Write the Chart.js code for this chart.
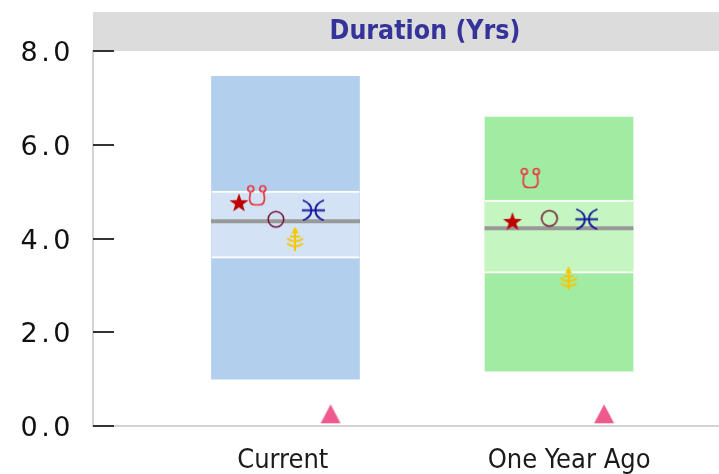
<!DOCTYPE html>
<html>
<head>
<meta charset="utf-8">
<style>
  html, body { margin: 0; padding: 0; background: #fff; }
  canvas { display: block; }
</style>
<script src="https://cdn.jsdelivr.net/npm/chart.js@4"></script>
</head>
<body>
<canvas id="durationChart" width="719" height="474"></canvas>
<script>
const categories = ['Current', 'One Year Ago'];
const yTicks = [0, 2, 4, 6, 8];

// box: outer range, inner range, median
const outerLow = [1.0, 1.17];
const outerHigh = [7.46, 6.59];
const innerLow = [3.58, 3.26];
const innerHigh = [5.01, 4.82];
const medians = [4.37, 4.22];

// one value per category for each marker
const starValues = [4.75, 4.35];
const stethoscopeValues = [4.92, 5.29];
const circleValues = [4.41, 4.43];
const anchorValues = [4.0, 3.15];
const piscesValues = [4.6, 4.41];
const triangleValues = [0.25, 0.25];

function icon(w, h, draw) {
    const c = document.createElement('canvas');
    c.width = w;
    c.height = h;
    draw(c.getContext('2d'));
    return c;
}

const starIcon = icon(22, 22, function(g) {
    g.fillStyle = '#c00000';
    g.beginPath();
    for (let i = 0; i < 10; i++) {
        const r = i % 2 ? 4 : 10;
        const a = -Math.PI / 2 + i * Math.PI / 5;
        g.lineTo(11 + r * Math.cos(a), 11 + r * Math.sin(a));
    }
    g.closePath();
    g.fill();
});

const stethoscopeIcon = icon(24, 24, function(g) {
    g.strokeStyle = '#e8363e';
    g.lineWidth = 1.7;
    g.beginPath();
    g.arc(5.7, 5.5, 3, 0, Math.PI * 2);
    g.stroke();
    g.beginPath();
    g.arc(17.7, 5.5, 3, 0, Math.PI * 2);
    g.stroke();
    g.beginPath();
    g.moveTo(5.5, 8.5);
    g.lineTo(4.5, 15);
    g.quadraticCurveTo(4.5, 21.5, 10, 21.5);
    g.lineTo(14, 21.5);
    g.quadraticCurveTo(19.5, 21.5, 19.5, 15);
    g.lineTo(18.5, 8.5);
    g.stroke();
});

const circleIcon = icon(20, 20, function(g) {
    g.strokeStyle = '#6d0f30';
    g.lineWidth = 1.5;
    g.beginPath();
    g.arc(10, 10, 7.8, 0, Math.PI * 2);
    g.stroke();
});

const anchorIcon = icon(20, 24, function(g) {
    g.strokeStyle = '#f7c600';
    g.fillStyle = '#f7c600';
    g.lineWidth = 2;
    g.beginPath();
    g.moveTo(10, 0);
    g.lineTo(13.5, 7);
    g.lineTo(6.5, 7);
    g.closePath();
    g.fill();
    g.beginPath();
    g.moveTo(10, 3);
    g.lineTo(10, 24);
    g.moveTo(5, 10);
    g.lineTo(15, 10);
    g.moveTo(2, 12);
    g.quadraticCurveTo(10, 18, 18, 12);
    g.moveTo(2, 17);
    g.quadraticCurveTo(10, 23, 18, 17);
    g.stroke();
});

const piscesIcon = icon(24, 22, function(g) {
    g.strokeStyle = '#0d0d96';
    g.lineWidth = 1.8;
    g.beginPath();
    g.moveTo(2, 1);
    g.quadraticCurveTo(10.5, 4, 10.5, 11);
    g.quadraticCurveTo(10.5, 18, 2, 21);
    g.moveTo(23, 1);
    g.quadraticCurveTo(14.5, 4, 14.5, 11);
    g.quadraticCurveTo(14.5, 18, 23, 21);
    g.stroke();
    g.strokeStyle = 'rgba(13, 13, 150, 0.8)';
    g.lineWidth = 2.4;
    g.beginPath();
    g.moveTo(1, 11);
    g.lineTo(24, 11);
    g.stroke();
});

const triangleIcon = icon(22, 22, function(g) {
    g.fillStyle = '#ef5a8e';
    g.beginPath();
    g.moveTo(11, 1);
    g.lineTo(21, 20);
    g.lineTo(1, 20);
    g.closePath();
    g.fill();
});

// categories sit at 1, 2 on the x scale
function catX(i) { return i + 1; }

function markerSet(label, values, offset, style) {
    return {
        type: 'line',
        label: label,
        data: values.map(function(v, i) { return { x: catX(i) + offset, y: v }; }),
        showLine: false,
        pointStyle: style,
        pointRadius: 10,
        order: 1
    };
}

const medianSets = medians.map(function(m, i) {
    return {
        type: 'line',
        label: 'Median ' + categories[i],
        data: [{ x: catX(i) - 0.2724, y: m }, { x: catX(i) + 0.2724, y: m }],
        borderColor: '#999999',
        borderWidth: 4,
        pointRadius: 0,
        order: 2
    };
});

const bandPlugin = {
    id: 'band',
    beforeDraw: function(chart) {
        const g = chart.ctx;
        g.save();
        g.fillStyle = '#dcdcdc';
        g.fillRect(93, 12, 626, chart.chartArea.top - 12);
        g.restore();
    },
    afterDraw: function(chart) {
        const g = chart.ctx;
        const y = chart.scales.y;
        g.save();
        y.ticks.forEach(function(t) {
            const p = Math.round(y.getPixelForValue(t.value));
            g.strokeStyle = '#333333';
            g.lineWidth = 2;
            g.beginPath();
            g.moveTo(93, p);
            g.lineTo(114, p);
            g.stroke();
            // tick text is letter-spaced in the original
            g.fillStyle = '#111111';
            g.font = '27px "DejaVu Sans"';
            g.letterSpacing = '3.5px';
            g.textAlign = 'right';
            g.textBaseline = 'middle';
            g.fillText(t.value.toFixed(1), 74, p + 3);
            g.letterSpacing = '0px';
        });
        g.fillStyle = '#333399';
        g.font = 'bold 26.5px "DejaVu Sans Condensed", "DejaVu Sans"';
        g.textAlign = 'center';
        g.textBaseline = 'middle';
        g.fillText('Duration (Yrs)', 425, 32);
        g.restore();
    }
};

const chart = new Chart(document.getElementById('durationChart').getContext('2d'), {
    type: 'bar',
    data: {
        datasets: [
            {
                label: 'Outer range',
                data: outerLow.map(function(v, i) { return { x: catX(i), y: [v, outerHigh[i]] }; }),
                backgroundColor: ['#b3cfee', '#a1eca3'],
                barThickness: 148,
                grouped: false,
                order: 4
            },
            {
                label: 'Inner range',
                data: innerLow.map(function(v, i) { return { x: catX(i), y: [v, innerHigh[i]] }; }),
                backgroundColor: ['#d3e2f4', '#c5f5c1'],
                borderColor: '#ffffff',
                borderWidth: { top: 2, bottom: 2, left: 0, right: 0 },
                borderSkipped: false,
                barThickness: 148,
                grouped: false,
                order: 3
            },
            ...medianSets,
            markerSet('Star', starValues, -0.17, starIcon),
            markerSet('Stethoscope', stethoscopeValues, -0.104, stethoscopeIcon),
            markerSet('Circle', circleValues, -0.035, circleIcon),
            markerSet('Anchor', anchorValues, 0.035, anchorIcon),
            markerSet('Pisces', piscesValues, 0.1, piscesIcon),
            markerSet('Triangle', triangleValues, 0.165, triangleIcon)
        ]
    },
    options: {
        responsive: false,
        animation: false,
        layout: { autoPadding: false, padding: { top: 51, right: 0, bottom: 0, left: 0 } },
        plugins: {
            legend: { display: false },
            title: { display: false },
            tooltip: { enabled: false }
        },
        scales: {
            x: {
                type: 'linear',
                offset: false,
                min: 0.2962,
                max: 2.5851,
                afterBuildTicks: function(scale) {
                    // labels do not sit right under the boxes in the original
                    scale.ticks = [{ value: 0.99 }, { value: 2.037 }];
                },
                afterFit: function(scale) {
                    scale.height = 48;
                    scale.paddingLeft = 0;
                    scale.paddingRight = 0;
                },
                grid: { display: false, drawTicks: false },
                border: { display: true, color: '#d4d4d4', width: 2 },
                ticks: {
                    autoSkip: false,
                    maxRotation: 0,
                    padding: 19,
                    color: '#1a1a1a',
                    font: { family: '"DejaVu Sans Condensed", "DejaVu Sans"', size: 27 },
                    callback: function(v, i) { return categories[i]; }
                }
            },
            y: {
                min: 0,
                max: 8,
                afterBuildTicks: function(scale) {
                    scale.ticks = yTicks.map(function(v) { return { value: v }; });
                },
                afterFit: function(scale) {
                    scale.width = 93;
                    scale.paddingTop = 0;
                    scale.paddingBottom = 0;
                },
                grid: { display: false, drawTicks: false },
                border: { display: true, color: '#d4d4d4', width: 2 },
                ticks: { display: false }
            }
        }
    },
    plugins: [bandPlugin]
});
</script>
</body>
</html>
